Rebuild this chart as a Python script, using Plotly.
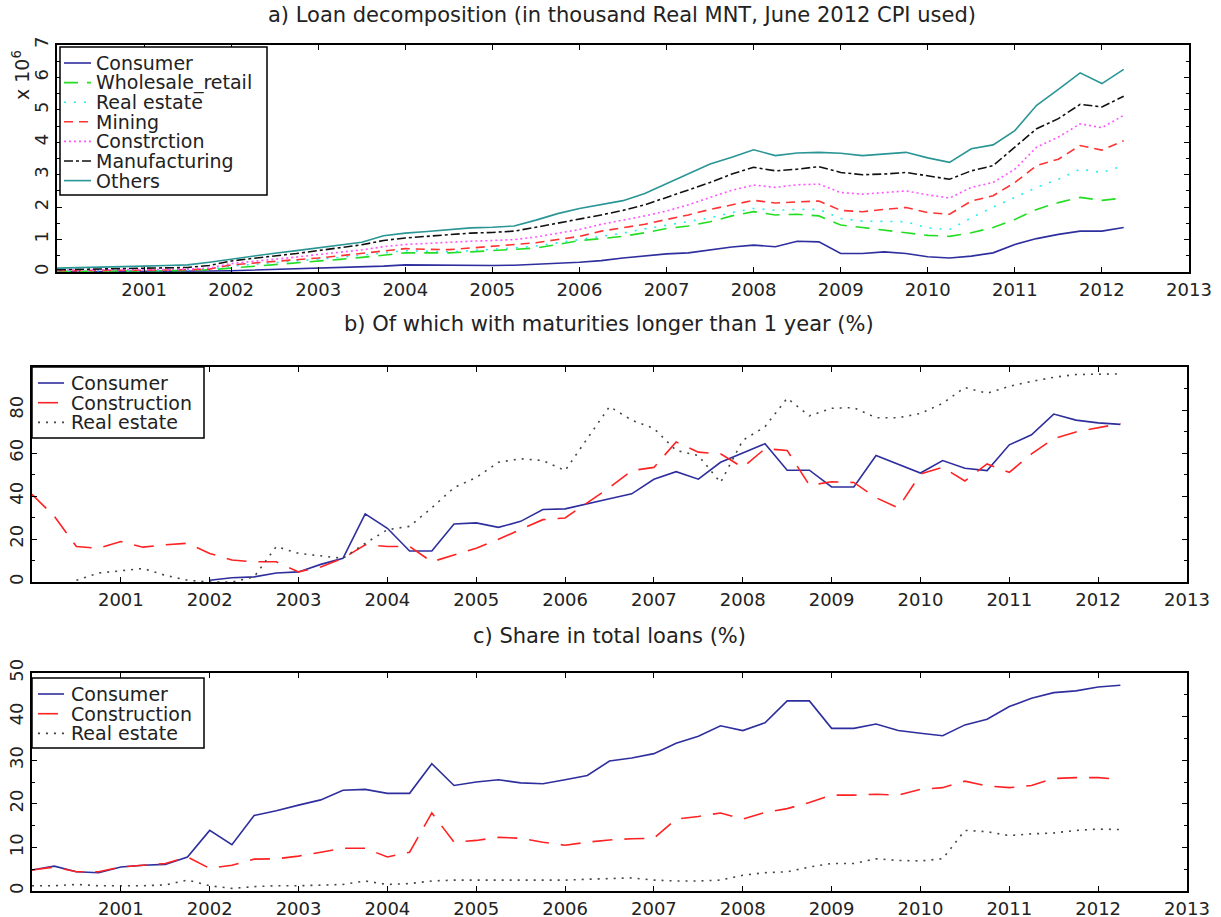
import plotly.graph_objects as go

# quarterly observations, 2000Q1 .. 2012Q2 (decimal year)
quarters = [2000.0, 2000.25, 2000.5, 2000.75, 2001.0, 2001.25, 2001.5, 2001.75,
            2002.0, 2002.25, 2002.5, 2002.75, 2003.0, 2003.25, 2003.5, 2003.75,
            2004.0, 2004.25, 2004.5, 2004.75, 2005.0, 2005.25, 2005.5, 2005.75,
            2006.0, 2006.25, 2006.5, 2006.75, 2007.0, 2007.25, 2007.5, 2007.75,
            2008.0, 2008.25, 2008.5, 2008.75, 2009.0, 2009.25, 2009.5, 2009.75,
            2010.0, 2010.25, 2010.5, 2010.75, 2011.0, 2011.25, 2011.5, 2011.75,
            2012.0, 2012.25]
year_ticks = [2001, 2002, 2003, 2004, 2005, 2006, 2007, 2008, 2009, 2010, 2011, 2012, 2013]

# a) cumulative loan stock, x 10^6 thousand real MNT
a_consumer = [0.01, 0.01, 0.01, 0.01, 0.02, 0.02, 0.02, 0.03,
              0.04, 0.06, 0.08, 0.10, 0.12, 0.13, 0.14, 0.18,
              0.22, 0.21, 0.20, 0.20, 0.20, 0.21, 0.23, 0.27,
              0.30, 0.35, 0.43, 0.49, 0.56, 0.59, 0.69, 0.77,
              0.83, 0.78, 0.95, 0.93, 0.57, 0.57, 0.62, 0.57,
              0.47, 0.43, 0.49, 0.59, 0.85, 1.03, 1.16, 1.26,
              1.26, 1.37]
a_wholesale = [0.02, 0.02, 0.03, 0.03, 0.04, 0.04, 0.05, 0.07,
               0.12, 0.17, 0.23, 0.28, 0.33, 0.39, 0.45, 0.52,
               0.59, 0.59, 0.59, 0.62, 0.66, 0.70, 0.74, 0.85,
               0.97, 1.03, 1.10, 1.21, 1.34, 1.42, 1.55, 1.73,
               1.86, 1.76, 1.78, 1.73, 1.45, 1.37, 1.28, 1.21,
               1.13, 1.10, 1.21, 1.37, 1.62, 1.93, 2.14, 2.30,
               2.21, 2.28]
a_realestate = [0.03, 0.03, 0.04, 0.04, 0.05, 0.05, 0.06, 0.08,
                0.18, 0.23, 0.28, 0.33, 0.38, 0.45, 0.52, 0.59,
                0.66, 0.64, 0.62, 0.66, 0.69, 0.74, 0.80, 0.90,
                1.00, 1.10, 1.20, 1.33, 1.45, 1.55, 1.67, 1.83,
                1.96, 1.90, 1.93, 1.93, 1.65, 1.57, 1.57, 1.55,
                1.36, 1.31, 1.67, 2.00, 2.30, 2.61, 2.86, 3.17,
                3.07, 3.28]
a_mining = [0.04, 0.04, 0.05, 0.05, 0.06, 0.06, 0.07, 0.09,
            0.22, 0.28, 0.33, 0.38, 0.43, 0.50, 0.57, 0.65,
            0.72, 0.70, 0.69, 0.74, 0.80, 0.84, 0.90, 1.00,
            1.10, 1.26, 1.37, 1.47, 1.62, 1.76, 1.93, 2.07,
            2.21, 2.13, 2.16, 2.19, 1.90, 1.86, 1.93, 1.99,
            1.83, 1.78, 2.19, 2.35, 2.76, 3.28, 3.48, 3.90,
            3.76, 4.05]
a_construction = [0.06, 0.06, 0.07, 0.07, 0.08, 0.08, 0.09, 0.12,
                  0.26, 0.32, 0.38, 0.46, 0.54, 0.60, 0.68, 0.78,
                  0.85, 0.88, 0.92, 0.95, 0.97, 1.00, 1.08, 1.20,
                  1.31, 1.47, 1.59, 1.73, 1.88, 2.07, 2.30, 2.52,
                  2.68, 2.61, 2.69, 2.71, 2.45, 2.40, 2.45, 2.50,
                  2.38, 2.28, 2.61, 2.76, 3.17, 3.85, 4.16, 4.57,
                  4.45, 4.83]
a_manufacturing = [0.07, 0.08, 0.09, 0.10, 0.12, 0.13, 0.14, 0.20,
                   0.34, 0.42, 0.49, 0.57, 0.66, 0.74, 0.84, 0.97,
                   1.05, 1.10, 1.15, 1.20, 1.22, 1.26, 1.38, 1.50,
                   1.62, 1.76, 1.90, 2.07, 2.30, 2.52, 2.76, 3.02,
                   3.23, 3.12, 3.17, 3.25, 3.07, 3.00, 3.02, 3.07,
                   2.97, 2.86, 3.12, 3.28, 3.85, 4.42, 4.73, 5.17,
                   5.09, 5.42]
a_others = [0.12, 0.13, 0.14, 0.16, 0.18, 0.20, 0.22, 0.30,
            0.40, 0.50, 0.58, 0.66, 0.74, 0.82, 0.92, 1.12,
            1.20, 1.25, 1.30, 1.36, 1.38, 1.42, 1.60, 1.80,
            1.96, 2.08, 2.20, 2.42, 2.73, 3.02, 3.33, 3.54,
            3.77, 3.59, 3.67, 3.69, 3.66, 3.59, 3.63, 3.69,
            3.52, 3.38, 3.80, 3.92, 4.36, 5.14, 5.63, 6.14,
            5.81, 6.25]

# b) share with maturities longer than 1 year (%)
b_consumer = [None, None, None, None, None, None, None, None,
              0.8, 2.0, 2.4, 4.2, 4.7, 8.2, 11.0, 31.7,
              25.0, 14.4, 14.4, 27.0, 27.5, 25.4, 28.2, 33.7,
              34.0, 36.5, 38.7, 41.0, 47.8, 51.3, 47.8, 55.7,
              60.0, 64.3, 52.0, 52.0, 44.2, 44.2, 58.8, 54.9,
              50.7, 56.5, 52.9, 51.8, 63.8, 68.5, 78.1, 75.3,
              74.0, 73.3]
b_construction = [40.8, 30.6, 16.5, 15.7, 18.8, 16.2, 17.3, 18.0,
                  13.3, 10.2, 9.4, 9.4, 4.7, 7.0, 11.0, 17.3,
                  16.5, 16.5, 9.4, 12.5, 15.7, 19.9, 24.6, 29.0,
                  29.8, 36.9, 43.9, 51.8, 53.3, 65.1, 60.4, 59.6,
                  53.3, 62.0, 61.2, 45.0, 46.6, 46.3, 39.2, 34.5,
                  50.2, 53.3, 47.0, 54.9, 51.0, 59.6, 66.7, 69.8,
                  71.7, 73.7]
b_realestate = [None, None, 0.8, 4.2, 5.2, 6.3, 3.1, 0.8,
                0.0, 0.0, 2.4, 16.5, 13.3, 12.0, 11.0, 18.0,
                24.3, 25.9, 34.5, 43.9, 48.6, 55.7, 57.3, 56.5,
                51.8, 66.7, 81.6, 75.3, 71.4, 61.2, 58.8, 46.3,
                65.9, 72.2, 85.5, 77.3, 80.8, 81.1, 76.4, 76.4,
                78.4, 83.1, 90.5, 87.8, 91.0, 93.3, 95.2, 96.5,
                96.8, 96.8]

# c) share in total loans (%)
c_consumer = [4.8, 5.7, 4.4, 4.2, 5.5, 5.9, 6.1, 7.8,
              13.9, 10.6, 17.3, 18.4, 19.7, 20.9, 23.1, 23.3,
              22.4, 22.4, 29.2, 24.2, 25.0, 25.5, 24.8, 24.6,
              25.5, 26.5, 29.8, 30.5, 31.5, 33.9, 35.5, 37.9,
              36.8, 38.6, 43.6, 43.6, 37.3, 37.3, 38.3, 36.8,
              36.2, 35.6, 38.1, 39.4, 42.3, 44.2, 45.5, 45.9,
              46.8, 47.2]
c_construction = [4.8, 5.5, 4.4, 4.4, 5.5, 5.9, 6.3, 7.8,
                  5.2, 5.9, 7.3, 7.4, 8.0, 8.9, 9.8, 9.8,
                  7.8, 8.9, 17.9, 11.2, 11.6, 12.3, 12.1, 11.2,
                  10.5, 11.2, 11.7, 12.0, 12.1, 16.5, 17.1, 17.9,
                  16.5, 18.0, 18.9, 20.3, 22.0, 22.0, 22.2, 22.0,
                  23.3, 23.7, 25.2, 24.1, 23.7, 24.2, 25.8, 26.0,
                  26.0, 25.6]
c_realestate = [1.2, 1.2, 1.5, 1.2, 1.2, 1.2, 1.4, 2.5,
                1.2, 0.6, 1.0, 1.2, 1.2, 1.4, 1.5, 2.3,
                1.5, 1.7, 2.3, 2.5, 2.5, 2.5, 2.5, 2.5,
                2.5, 2.7, 2.9, 3.0, 2.5, 2.3, 2.3, 2.5,
                3.6, 4.2, 4.4, 5.5, 6.3, 6.3, 7.4, 7.0,
                6.9, 7.4, 13.9, 13.6, 12.7, 13.1, 13.3, 13.9,
                14.2, 14.1]

FONT = "DejaVu Sans"
TXT = "#222222"
W, H = 1221, 917


def px_x(p):
    # window pixel -> paper fraction
    return p / W


def px_y(p):
    return 1 - p / H


fig = go.Figure()

# name, values, colour, dash
panel_a = [
    ("Consumer", a_consumer, "#2e2e9e", "solid"),
    ("Wholesale_retail", a_wholesale, "#22dd22", "14px,9px"),
    ("Real estate", a_realestate, "#22eeee", "2px,8px"),
    ("Mining", a_mining, "#ff3333", "9px,6px"),
    ("Constrction", a_construction, "#ff55ff", "2px,3px"),
    ("Manufacturing", a_manufacturing, "#111111", "dashdot"),
    ("Others", a_others, "#2a9595", "solid"),
]
for name, vals, color, dash in panel_a:
    fig.add_trace(go.Scatter(x=quarters, y=vals, name=name, mode="lines",
                             line=dict(color=color, width=1.6, dash=dash),
                             xaxis="x", yaxis="y", showlegend=False))

panel_bc = [
    ("Consumer", "#2e2e9e", "solid"),
    ("Construction", "#ff2222", "20px,12px"),
    ("Real estate", "#444444", "2px,6px"),
]
for series, ax in [((b_consumer, b_construction, b_realestate), "2"),
                   ((c_consumer, c_construction, c_realestate), "3")]:
    for (name, color, dash), vals in zip(panel_bc, series):
        fig.add_trace(go.Scatter(x=quarters, y=vals, name=name, mode="lines",
                                 line=dict(color=color, width=1.6, dash=dash),
                                 connectgaps=False, showlegend=False,
                                 xaxis="x" + ax, yaxis="y" + ax))


def add_box_legend(entries, left, top, right, bottom, first_row, row_gap, line_x0, line_x1, text_x):
    """MATLAB style legend box drawn in window pixels."""
    fig.add_shape(type="rect", xref="paper", yref="paper", layer="above",
                  x0=px_x(left), x1=px_x(right), y0=px_y(bottom), y1=px_y(top),
                  line=dict(color="black", width=1.5), fillcolor="white")
    for i, entry in enumerate(entries):
        name, color, dash = entry[0], entry[-2], entry[-1]
        yy = px_y(first_row + i * row_gap)
        fig.add_shape(type="line", xref="paper", yref="paper", layer="above",
                      x0=px_x(line_x0), x1=px_x(line_x1), y0=yy, y1=yy,
                      line=dict(color=color, width=1.6, dash=dash))
        fig.add_annotation(text=name, x=px_x(text_x), y=yy, xref="paper", yref="paper",
                           showarrow=False, xanchor="left", yanchor="middle",
                           font=dict(family=FONT, size=19, color=TXT))


add_box_legend(panel_a, 60, 47, 267, 195, 63, 19.6, 64, 91, 94)
add_box_legend(panel_bc, 32, 367, 204, 438, 383, 19.7, 38, 64, 69)
add_box_legend(panel_bc, 32, 678, 204, 748, 694, 19.7, 38, 64, 69)

axis_common = dict(showline=True, linecolor="black", linewidth=2, mirror="ticks",
                   ticks="inside", ticklen=5, tickcolor="black", showgrid=False,
                   zeroline=False, automargin=False,
                   tickfont=dict(family=FONT, size=18, color=TXT))

x_common = dict(axis_common, range=[2000, 2013], tickmode="array", tickvals=year_ticks,
                ticktext=[str(y) for y in year_ticks])

fig.update_layout(
    template="none",
    width=W, height=H, autosize=False,
    margin=dict(l=0, r=0, t=0, b=0, pad=0),
    plot_bgcolor="white", paper_bgcolor="white",
    font=dict(family=FONT, color=TXT),
    showlegend=False,
    xaxis=dict(x_common, domain=[px_x(57), px_x(1189)], anchor="y"),
    yaxis=dict(axis_common, domain=[px_y(272), px_y(45)], anchor="x",
               range=[0, 7], dtick=1, tickangle=-90,
               minor=dict(dtick=0.5, ticks="inside", ticklen=3, tickcolor="black")),
    xaxis2=dict(x_common, domain=[px_x(32), px_x(1187)], anchor="y2"),
    yaxis2=dict(axis_common, domain=[px_y(582), px_y(367)], anchor="x2",
                range=[0, 100], tickmode="array", tickvals=[0, 20, 40, 60, 80],
                tickangle=-90,
                minor=dict(tickmode="linear", tick0=0, dtick=10, ticks="inside",
                           ticklen=3, tickcolor="black")),
    xaxis3=dict(x_common, domain=[px_x(32), px_x(1187)], anchor="y3"),
    yaxis3=dict(axis_common, domain=[px_y(891), px_y(673)], anchor="x3",
                range=[0, 50], dtick=10, tickangle=-90,
                minor=dict(dtick=5, ticks="inside", ticklen=3, tickcolor="black")),
)

titles = [
    ("a) Loan decomposition (in thousand Real MNT, June 2012 CPI used)", 622, 15),
    ("b) Of which with maturities longer than 1 year (%)", 609, 324),
    ("c) Share in total loans (%)", 609, 636),
]
for text, cx, cy in titles:
    fig.add_annotation(text=text, x=px_x(cx), y=px_y(cy), xref="paper", yref="paper",
                       showarrow=False, xanchor="center", yanchor="middle",
                       font=dict(family=FONT, size=21, color=TXT))

fig.add_annotation(text="x 10<sup>6</sup>", x=px_x(21), y=px_y(75), xref="paper",
                   yref="paper", showarrow=False, textangle=-90,
                   xanchor="center", yanchor="middle",
                   font=dict(family=FONT, size=19, color=TXT))

# drop the browser's default page margin so the figure sits at the window origin
fig.write_html("out.html",
               config={"displayModeBar": False},
               post_script="document.body.style.margin='0px';"
                           "document.body.style.overflow='hidden';")
